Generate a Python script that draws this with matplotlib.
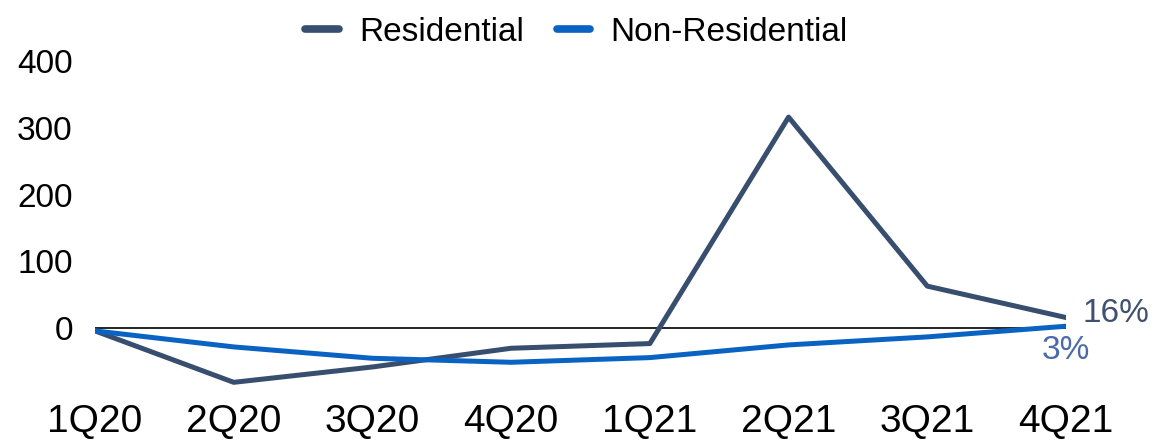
import matplotlib.pyplot as plt
import numpy as np

plt.rcParams['font.family'] = ['Liberation Sans', 'DejaVu Sans']

quarters = ['1Q20', '2Q20', '3Q20', '4Q20', '1Q21', '2Q21', '3Q21', '4Q21']
residential = [-4, -81, -58, -30, -23, 316, 63, 16]
non_residential = [-4, -28, -45, -51, -44, -25, -13, 3]

res_color = '#384E6E'
nonres_color = '#0A63C2'

fig = plt.figure(figsize=(11.53, 4.40), dpi=100)
ax = fig.add_axes([95 / 1153, 1 - 385 / 440, (1066 - 95) / 1153, (385 - 61) / 440])

x = np.arange(len(quarters))
ax.plot(x, residential, color=res_color, lw=3.6, label='Residential', zorder=3)
ax.plot(x, non_residential, color=nonres_color, lw=3.6, label='Non-Residential', zorder=3)
ax.axhline(0, color='black', lw=1.2, zorder=2)

# end-of-series labels
ax.text(x[-1] + 0.12, residential[-1] + 6, f'{residential[-1]}%', color='#3F5070',
        fontsize=24, va='center', ha='left', clip_on=False)
ax.text(x[-1], non_residential[-1] - 36, f'{non_residential[-1]}%', color='#4A6AAA',
        fontsize=24, va='center', ha='center', clip_on=False)

ax.set_xlim(0, len(quarters) - 1)
ax.set_ylim(-85, 400)
ax.set_yticks([0, 100, 200, 300, 400])
ax.set_xticks(x)
ax.set_xticklabels(quarters)
ax.tick_params(axis='y', length=0, labelsize=24, pad=16)
ax.tick_params(axis='x', length=0, labelsize=28, pad=14)
for s in ax.spines.values():
    s.set_visible(False)

leg = fig.legend(loc='upper center', bbox_to_anchor=(0.5, 1.03), ncol=2, frameon=False,
                 fontsize=24, handlelength=1.0, handletextpad=0.6, columnspacing=1.0)
for line in leg.get_lines():
    line.set_linewidth(5.5)
    line.set_solid_capstyle('round')

fig.savefig('out.png', dpi=100)
